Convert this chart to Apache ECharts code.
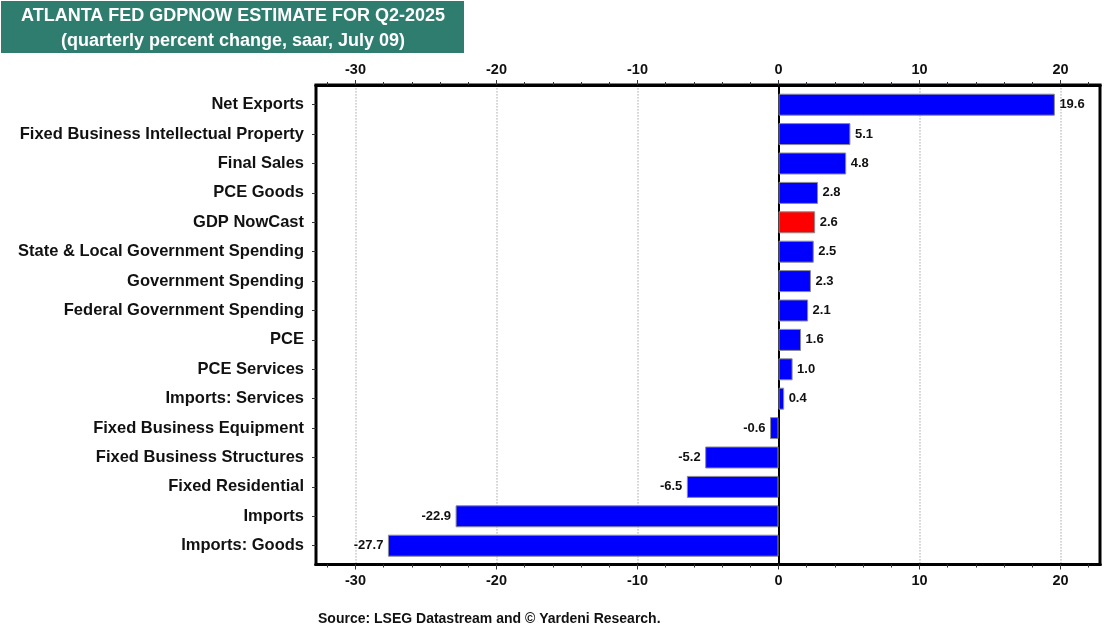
<!DOCTYPE html>
<html>
<head>
<meta charset="utf-8">
<style>
  html, body { margin: 0; padding: 0; background: #fff; }
  #chart { width: 1120px; height: 630px; }
</style>
<script src="https://cdn.jsdelivr.net/npm/echarts@6/dist/echarts.min.js"></script>
</head>
<body>
<div id="chart"></div>
<script>
var categories = ['Net Exports', 'Fixed Business Intellectual Property', 'Final Sales', 'PCE Goods', 'GDP NowCast',
  'State & Local Government Spending', 'Government Spending', 'Federal Government Spending', 'PCE', 'PCE Services',
  'Imports: Services', 'Fixed Business Equipment', 'Fixed Business Structures', 'Fixed Residential', 'Imports', 'Imports: Goods'];
var values = [19.6, 5.1, 4.8, 2.8, 2.6, 2.5, 2.3, 2.1, 1.6, 1.0, 0.4, -0.6, -5.2, -6.5, -22.9, -27.7];
var highlighted = 'GDP NowCast';
var majorTicks = [-30, -20, -10, 0, 10, 20];
var minorTicks = [-32, -30, -28, -26, -24, -22, -20, -18, -16, -14, -12, -10, -8, -6, -4, -2, 0, 2, 4, 6, 8, 10, 12, 14, 16, 18, 20, 22];

var font = '"Liberation Sans", Arial, sans-serif';
var xMin = -32.8, xMax = 22.8;

// grid 1 only holds the frame and the ticks, it is taller than the bars' grid
function frameAxis(position, ticks, tickLen, showLabels, showGrid) {
  return {
    type: 'value', gridIndex: 1, position: position, min: xMin, max: xMax,
    axisLine: { show: true, onZero: false, lineStyle: { color: '#000', width: 3 } },
    axisTick: { show: true, customValues: ticks, length: tickLen, lineStyle: { color: '#333', width: 1 } },
    axisLabel: { show: showLabels, customValues: majorTicks, margin: position === 'top' ? 8 : 9, color: '#111', fontFamily: font, fontWeight: 'bold', fontSize: 14.5 },
    splitLine: { show: showGrid, lineStyle: { color: '#d4d4d4', type: 'dotted', width: 1.5 } }
  };
}

var chart = echarts.init(document.getElementById('chart'));
chart.setOption({
  backgroundColor: '#fff',
  animation: false,
  graphic: [{
    type: 'rect', left: 1, top: 1, z: 0,
    shape: { width: 463, height: 52 },
    style: { fill: '#2e7d6f' }
  }],
  title: [{
    text: 'ATLANTA FED GDPNOW ESTIMATE FOR Q2-2025', left: 228, top: 2, textAlign: 'center',
    textStyle: { color: '#fff', fontFamily: font, fontWeight: 'bold', fontSize: 18 }
  }, {
    text: '(quarterly percent change, saar, July 09)', left: 228, top: 27, textAlign: 'center',
    textStyle: { color: '#fff', fontFamily: font, fontWeight: 'bold', fontSize: 18 }
  }, {
    text: 'Source: LSEG Datastream and © Yardeni Research.', left: 313, top: 607,
    textStyle: { color: '#111', fontFamily: font, fontWeight: 'bold', fontSize: 14 }
  }],
  grid: [
    { left: 316, width: 784, top: 90, height: 470.4, containLabel: false },
    { left: 316, width: 784, top: 85, height: 479.5, show: true, borderColor: '#000', borderWidth: 3, backgroundColor: 'transparent' }
  ],
  xAxis: [
    { type: 'value', gridIndex: 0, min: xMin, max: xMax, show: false, splitLine: { show: false } },
    frameAxis('top', minorTicks, 3, true, false),
    frameAxis('bottom', minorTicks, 3, true, false),
    frameAxis('top', majorTicks, 5, false, true),
    frameAxis('bottom', majorTicks, 5, false, true)
  ],
  yAxis: [{
    type: 'category', gridIndex: 0, inverse: true, data: categories,
    axisLine: { show: false, onZero: false },
    axisTick: { show: true, alignWithLabel: true, length: 4, inside: false, lineStyle: { color: '#333' } },
    axisLabel: { margin: 12, color: '#111', fontFamily: font, fontWeight: 'bold', fontSize: 16.5 }
  }, {
    // zero line
    type: 'value', gridIndex: 1, min: 0, max: 1,
    axisLine: { show: true, onZero: true, lineStyle: { color: '#000', width: 2 } },
    axisTick: { show: false }, axisLabel: { show: false }, splitLine: { show: false }
  }],
  series: [{
    type: 'bar', xAxisIndex: 0, yAxisIndex: 0, barWidth: 22, z: 3,
    data: values.map(function (v, i) {
      return {
        value: v,
        itemStyle: { color: categories[i] === highlighted ? '#ff0000' : '#0000ff' },
        label: { position: v < 0 ? 'left' : 'right' }
      };
    }),
    itemStyle: { borderColor: '#8c8c8c', borderWidth: 1 },
    label: {
      show: true, distance: 4.5, color: '#111', fontFamily: font, fontWeight: 'bold', fontSize: 13,
      formatter: function (p) { return p.value.toFixed(1); }
    }
  }]
});
</script>
</body>
</html>
